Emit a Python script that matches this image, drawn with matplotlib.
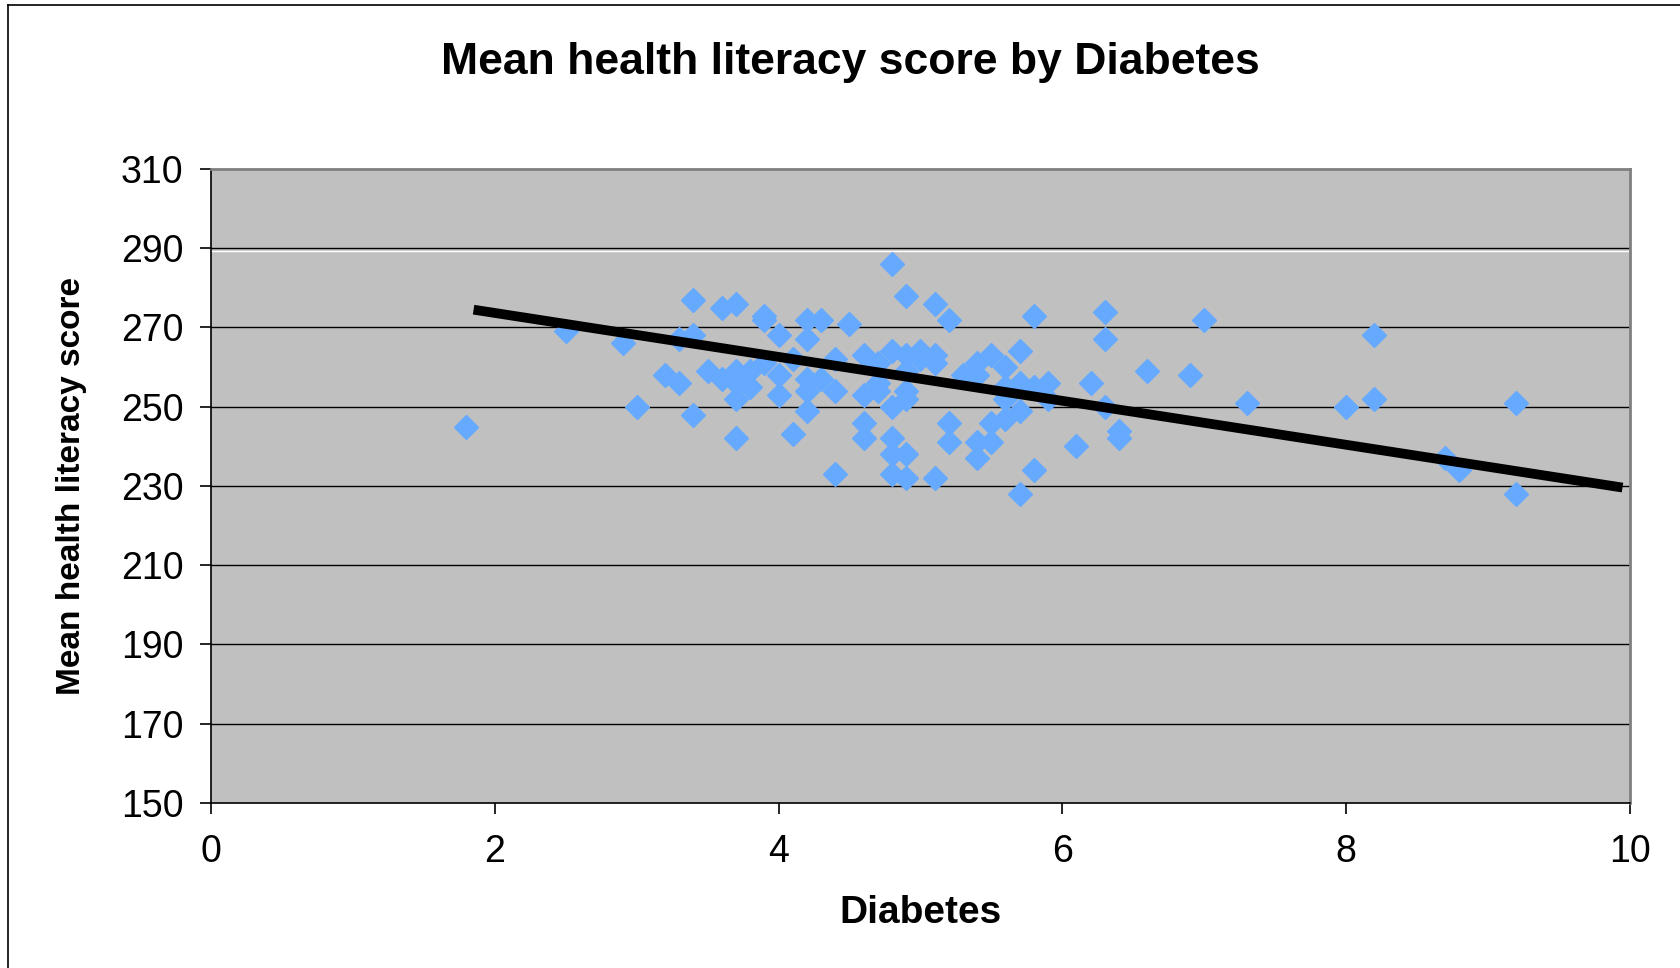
"""Mean health literacy score by Diabetes - scatter with trend line."""
import matplotlib
matplotlib.use('Agg')
import matplotlib.pyplot as plt
from matplotlib.lines import Line2D

plt.rcParams['font.family'] = ['Liberation Sans', 'DejaVu Sans']

# diabetes rate (%) per area
diabetes = [1.8, 2.5, 2.9, 3.0, 3.2, 3.3, 3.3, 3.4, 3.4, 3.4, 3.5, 3.6, 3.6,
            3.7, 3.7, 3.7, 3.7, 3.7, 3.8, 3.8, 3.9, 3.9, 3.9, 4.0, 4.0, 4.0,
            4.1, 4.1, 4.2, 4.2, 4.2, 4.2, 4.2, 4.3, 4.3, 4.4, 4.4, 4.4, 4.5,
            4.6, 4.6, 4.6, 4.6, 4.7, 4.7, 4.7, 4.8, 4.8, 4.8, 4.8, 4.8, 4.8,
            4.9, 4.9, 4.9, 4.9, 4.9, 4.9, 4.9, 5.0, 5.0, 5.1, 5.1, 5.1, 5.1,
            5.2, 5.2, 5.2, 5.3, 5.4, 5.4, 5.4, 5.4, 5.5, 5.5, 5.5, 5.6, 5.6,
            5.6, 5.6, 5.7, 5.7, 5.7, 5.7, 5.8, 5.8, 5.8, 5.9, 5.9, 6.1, 6.2,
            6.3, 6.3, 6.3, 6.4, 6.4, 6.6, 6.9, 7.0, 7.3, 8.0, 8.2, 8.2, 8.7,
            8.8, 9.2, 9.2]
# mean health literacy score
score = [245, 269, 266, 250, 258, 256, 267, 277, 268, 248, 259, 275, 257,
         276, 259, 256, 252, 242, 259, 255, 273, 272, 261, 268, 258, 253,
         262, 243, 272, 267, 257, 254, 249, 272, 257, 262, 254, 233, 271,
         263, 253, 246, 242, 261, 256, 254, 286, 264, 250, 242, 238, 233,
         278, 263, 259, 254, 252, 238, 232, 264, 262, 276, 263, 261, 232,
         272, 246, 241, 258, 261, 258, 241, 237, 263, 246, 241, 260, 255,
         252, 247, 264, 256, 249, 228, 273, 255, 234, 256, 252, 240, 256,
         274, 267, 250, 244, 242, 259, 258, 272, 251, 250, 268, 252, 237,
         234, 251, 228]

# trend line end points
trend_x = [1.85, 9.95]
trend_y = [274.5, 229.6]

y_ticks = [150, 170, 190, 210, 230, 250, 270, 290, 310]
x_ticks = [0, 2, 4, 6, 8, 10]


def main():
    fig = plt.figure(figsize=(16.8, 9.68), dpi=100)
    ax = fig.add_axes([0.1257, 0.1705, 0.8443, 0.6549])
    ax.set_facecolor('#C0C0C0')

    for y in y_ticks[1:-1]:
        ax.axhline(y, color='black', lw=1.0, zorder=1)
    ax.axhline(289.4, color='white', lw=1.0, zorder=1)

    ax.plot(diabetes, score, linestyle='none', marker='D', ms=12,
            color='#66AAFF', mec='#66AAFF', zorder=3)
    ax.plot(trend_x, trend_y, color='black', lw=7, solid_capstyle='butt',
            zorder=4)

    ax.set_xlim(0, 10)
    ax.set_ylim(150, 310)
    ax.set_xticks(x_ticks)
    ax.set_yticks(y_ticks)
    ax.tick_params(axis='both', direction='out', length=8, width=1.2,
                   labelsize=27)
    ax.tick_params(axis='y', pad=12)
    ax.tick_params(axis='x', pad=14)

    for side in ('top', 'right'):
        ax.spines[side].set_color('#808080')
        ax.spines[side].set_linewidth(2)
    for side in ('left', 'bottom'):
        ax.spines[side].set_color('black')
        ax.spines[side].set_linewidth(1.2)

    ax.set_xlabel('Diabetes', fontsize=28, fontweight='bold', labelpad=18)
    ax.set_ylabel('Mean health literacy score', fontsize=24,
                  fontweight='bold', labelpad=24)
    fig.text(0.506, 0.935, 'Mean health literacy score by Diabetes',
             ha='center', va='center', fontsize=32, fontweight='bold')

    # outer chart border
    fig.add_artist(Line2D([0.0045, 1.0], [0.9945, 0.9945], color='black',
                          lw=1.2, transform=fig.transFigure))
    fig.add_artist(Line2D([0.0045, 0.0045], [0.0, 0.9945], color='black',
                          lw=1.2, transform=fig.transFigure))

    fig.savefig('out.png', dpi=100)


if __name__ == '__main__':
    main()
